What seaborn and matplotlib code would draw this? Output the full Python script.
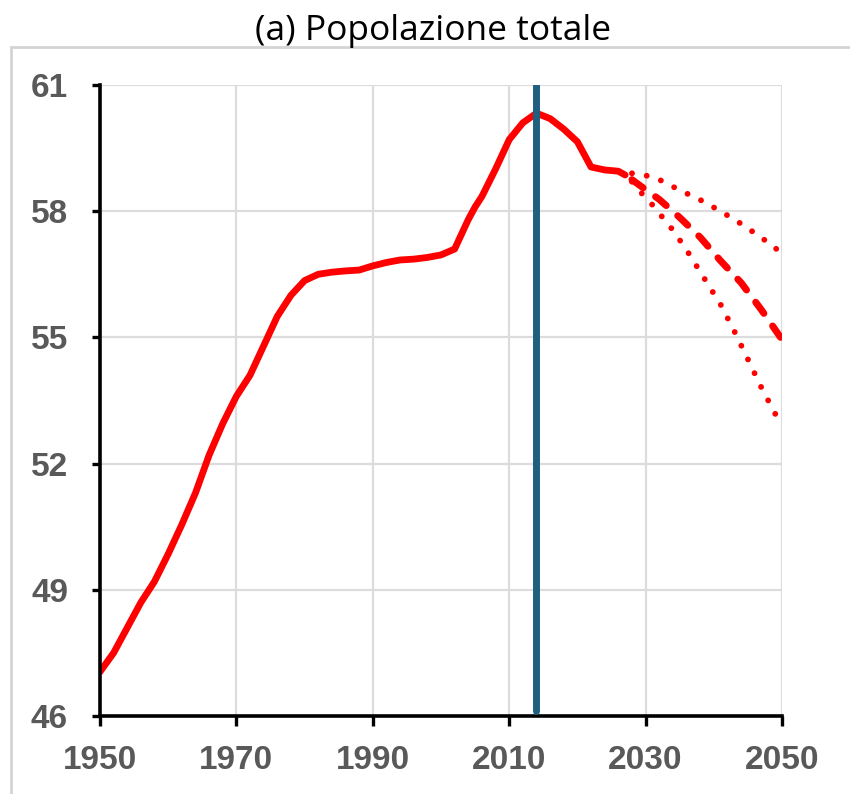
import matplotlib
matplotlib.use("Agg")
import matplotlib.pyplot as plt
from matplotlib.patches import Rectangle
import pandas as pd
import seaborn as sns

# historical total population (millions)
years_hist = [1950, 1952, 1954, 1956, 1958, 1960, 1962, 1964, 1966, 1968,
              1970, 1972, 1974, 1976, 1978, 1980, 1982, 1984, 1986, 1988,
              1990, 1992, 1994, 1996, 1998, 2000, 2002, 2004, 2005, 2006,
              2008, 2010, 2012, 2014, 2016, 2018, 2020, 2022, 2024, 2026, 2027]
pop_hist = [47.05, 47.5, 48.1, 48.7, 49.2, 49.85, 50.55, 51.3, 52.2, 52.95,
            53.6, 54.1, 54.8, 55.5, 56.0, 56.35, 56.5, 56.55, 56.58, 56.6,
            56.7, 56.78, 56.84, 56.86, 56.9, 56.96, 57.1, 57.8, 58.1, 58.35,
            59.0, 59.7, 60.1, 60.33, 60.2, 59.95, 59.65, 59.05, 58.98, 58.95, 58.86]

# projections
years_high = [2028, 2030, 2032, 2035, 2038, 2041, 2044, 2047, 2050]
pop_high = [58.9, 58.85, 58.75, 58.5, 58.27, 58.0, 57.7, 57.37, 57.0]
years_mid = [2028, 2029, 2032, 2035, 2038, 2041, 2044, 2047, 2050]
pop_mid = [58.75, 58.63, 58.28, 57.85, 57.38, 56.82, 56.3, 55.65, 54.95]
years_low = [2028, 2029, 2031, 2034, 2036, 2039, 2041, 2043, 2045, 2047, 2050]
pop_low = [58.7, 58.5, 58.15, 57.55, 57.08, 56.3, 55.78, 55.15, 54.48, 53.8, 52.88]

base_year = 2014
x_ticks = [1950, 1970, 1990, 2010, 2030, 2050]
y_ticks = [46, 49, 52, 55, 58, 61]

sns.set_style("whitegrid", {"grid.color": "#dcdcdc"})

fig = plt.figure(figsize=(8.5, 7.94), dpi=100)
ax = fig.add_axes([0.1176, 0.0982, 0.8024, 0.7948])

hist = pd.DataFrame({"anno": years_hist, "pop": pop_hist})
sns.lineplot(data=hist, x="anno", y="pop", color="red", lw=4.9, ax=ax,
             solid_capstyle="round", solid_joinstyle="round")

sns.lineplot(x=years_high, y=pop_high, color="red", lw=4.2, ax=ax,
             linestyle=(0, (0.01, 2.55)), dash_capstyle="round")
sns.lineplot(x=years_low, y=pop_low, color="red", lw=4.2, ax=ax,
             linestyle=(0, (0.01, 2.6)), dash_capstyle="round")
sns.lineplot(x=years_mid, y=pop_mid, color="red", lw=5, ax=ax,
             linestyle=(0, (2.0, 2.2)), dash_capstyle="round")

ax.axvline(base_year, ymin=0.008, ymax=1, color="#1f5f80", lw=5, zorder=5)

ax.set_xlim(1950, 2050)
ax.set_ylim(46, 61)
ax.set_xticks(x_ticks)
ax.set_yticks(y_ticks)
ax.set_xlabel("")
ax.set_ylabel("")
ax.grid(True, color="#dcdcdc", lw=1.6)

for s in ["top", "right"]:
    ax.spines[s].set_visible(False)
for s in ["left", "bottom"]:
    ax.spines[s].set_color("black")
    ax.spines[s].set_linewidth(2.6)

ax.tick_params(axis="y", direction="out", length=6, width=2.4, color="black",
               pad=17, left=True)
ax.tick_params(axis="x", direction="out", length=7, width=2.4, color="black",
               pad=14, bottom=True)
for lab in ax.get_xticklabels() + ax.get_yticklabels():
    lab.set_fontfamily("Liberation Sans")
    lab.set_fontweight("bold")
    lab.set_fontsize(24)
    lab.set_color("#595959")

fig.text(0.51, 0.950, "(a) Popolazione totale", ha="center", va="baseline",
         fontsize=25.5, family="Open Sans", color="black")

# light outer frame of the original panel
fig.add_artist(Rectangle((0.013, -0.1), 1.2, 0.9408 + 0.1,
                         transform=fig.transFigure, fill=False,
                         edgecolor="#d4d4d4", lw=2, clip_on=False))

fig.savefig("out.png", dpi=100, facecolor="white")
